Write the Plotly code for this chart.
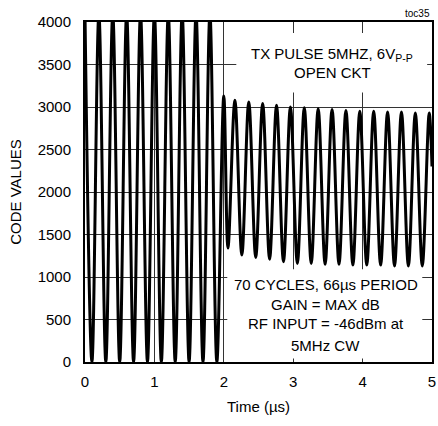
import plotly.graph_objects as go

# Time axis (µs) of the read-off extrema of the waveform
time_us = [0.0, 0.1, 0.2, 0.3, 0.4, 0.5, 0.6, 0.7, 0.8, 0.9,
           1.0, 1.1, 1.2, 1.3, 1.4, 1.5, 1.6, 1.7, 1.8, 1.9, 2.0,
           2.06, 2.16, 2.26, 2.36, 2.46, 2.56, 2.66, 2.76, 2.86, 2.96,
           3.06, 3.16, 3.26, 3.36, 3.46, 3.56, 3.66, 3.76, 3.86, 3.96,
           4.06, 4.16, 4.26, 4.36, 4.46, 4.56, 4.66, 4.76, 4.86, 4.96, 5.0]
# ADC code values at those instants (saturated TX pulse, then received CW)
code_values = [4095, 0, 4095, 0, 4095, 0, 4095, 0, 4095, 0,
               4095, 0, 4095, 0, 4095, 0, 4095, 0, 4095, 0, 3130,
               1340, 3080, 1260, 3060, 1230, 3040, 1210, 3020, 1180, 3000,
               1160, 2990, 1160, 2980, 1150, 2970, 1150, 2960, 1140, 2950,
               1140, 2950, 1140, 2940, 1130, 2940, 1130, 2930, 1130, 2930, 2300]

x_ticks = [0, 1, 2, 3, 4, 5]
y_ticks = [0, 500, 1000, 1500, 2000, 2500, 3000, 3500, 4000]

FONT = "Liberation Sans, Arial, sans-serif"

fig = go.Figure()
fig.add_trace(go.Scatter(
    x=time_us, y=code_values, mode="lines",
    line=dict(color="black", width=3, shape="spline"),
    hoverinfo="skip", showlegend=False))

# white label boxes that hide the grid
fig.add_shape(type="rect", xref="x", yref="y", x0=2.18, x1=4.93, y0=3170, y1=3870,
              fillcolor="white", line=dict(width=0), layer="between")
fig.add_shape(type="rect", xref="x", yref="y", x0=2.05, x1=4.86, y0=40, y1=1090,
              fillcolor="white", line=dict(width=0), layer="between")

ann = dict(showarrow=False, xref="x", yref="y", font=dict(family=FONT, size=15, color="black"))
fig.add_annotation(x=3.56, y=3613, text="TX PULSE 5MHZ, 6V<sub>P-P</sub>", **ann)
fig.add_annotation(x=3.56, y=3402, text="OPEN CKT", **ann)
fig.add_annotation(x=3.47, y=915, text="70 CYCLES, 66µs PERIOD", **ann)
fig.add_annotation(x=3.47, y=680, text="GAIN = MAX dB", **ann)
fig.add_annotation(x=3.47, y=457, text="RF INPUT = -46dBm at", **ann)
fig.add_annotation(x=3.47, y=200, text="5MHz CW", **ann)
fig.add_annotation(x=1.0, y=1.0, xref="paper", yref="paper", xanchor="right", yanchor="bottom",
                   yshift=1, text="toc35", showarrow=False,
                   font=dict(family=FONT, size=10, color="black"))

axis_common = dict(showline=True, linecolor="black", linewidth=2, mirror=True,
                   showgrid=True, gridcolor="#333333", gridwidth=1, zeroline=False,
                   automargin=False,
                   ticks="", tickfont=dict(family=FONT, size=15, color="black"))

fig.update_xaxes(range=[0, 5], tickvals=x_ticks, ticktext=[str(v) for v in x_ticks],
                 title=dict(text="Time (µs)", font=dict(family=FONT, size=15, color="black"), standoff=12),
                 ticklabelstandoff=5, **axis_common)
fig.update_yaxes(range=[0, 4000], tickvals=y_ticks, ticktext=[str(v) for v in y_ticks],
                 title=dict(text="CODE VALUES", font=dict(family=FONT, size=15, color="black"), standoff=12),
                 ticklabelstandoff=9, **axis_common)

fig.update_layout(width=438, height=426, margin=dict(l=85, r=6, t=22, b=64),
                  paper_bgcolor="white", plot_bgcolor="white",
                  font=dict(family=FONT, color="black"))

fig.write_html("out.html",
               config={"displayModeBar": False, "staticPlot": True},
               post_script="document.body.style.margin='0';"
                           "document.body.style.overflow='hidden';"
                           "document.documentElement.style.overflow='hidden';")
